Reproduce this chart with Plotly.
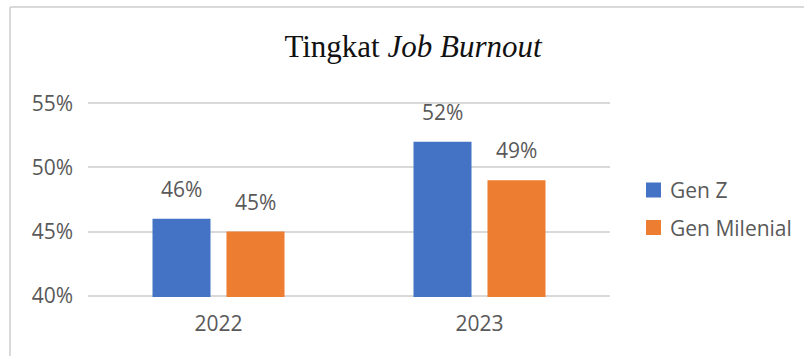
import plotly.graph_objects as go

years = ["2022", "2023"]
gen_z = [46, 52]
gen_milenial = [45, 49]
series_names = ["Gen Z", "Gen Milenial"]
y_ticks = [40, 45, 50, 55]

BLUE = "#4472C4"
ORANGE = "#ED7D31"
TEXT = "#595959"
GRID = "#D9D9D9"
FONT = "Open Sans, Noto Sans, sans-serif"

W, H = 804, 356
L, R, T, B = 88, 194, 102, 59
plot_w = W - L - R
plot_h = H - T - B

# pixel -> paper coordinate helpers
px = lambda v: (v - L) / plot_w
py = lambda v: (H - B - v) / plot_h

series = [(series_names[0], gen_z, BLUE), (series_names[1], gen_milenial, ORANGE)]

fig = go.Figure()
for name, vals, col in series:
    fig.add_trace(go.Bar(x=years, y=vals, name=name, marker_color=col,
                         marker_line_width=0, hoverinfo="x+y+name",
                         showlegend=False))

# value labels above each bar (offset left/right within the group);
# x is the category index so the label sits over its own year
bar_gap = 0.433
slot_px = (1 - bar_gap) * plot_w / len(years) / 2
for (name, vals, col), sign in zip(series, (-1, 1)):
    for i, v in enumerate(vals):
        fig.add_annotation(x=i, y=v, text=f"{v}%", showarrow=False,
                           xref="x", yref="y", yanchor="bottom",
                           xshift=sign * slot_px / 2, yshift=14,
                           font=dict(family=FONT, size=21, color=TEXT))

# legend on the right: coloured square + series name
for k, (name, vals, col) in enumerate(series):
    cy = 190 + k * 37.5
    fig.add_shape(type="rect", xref="paper", yref="paper",
                  x0=px(646), x1=px(661), y0=py(cy + 7.5), y1=py(cy - 7.5),
                  fillcolor=col, line_width=0)
    fig.add_annotation(x=px(668), y=py(cy), xref="paper", yref="paper",
                       text=name, showarrow=False, xanchor="left",
                       yanchor="middle",
                       font=dict(family=FONT, size=21, color=TEXT))

# thin frame around the chart area
frame = dict(color=GRID, width=2)
fig.add_shape(type="line", xref="paper", yref="paper",
              x0=px(10), x1=px(W + 5), y0=py(7), y1=py(7), line=frame)
fig.add_shape(type="line", xref="paper", yref="paper",
              x0=px(10), x1=px(10), y0=py(7), y1=py(H + 5), line=frame)

fig.update_layout(
    width=W, height=H,
    margin=dict(l=L, r=R, t=T, b=B),
    paper_bgcolor="white", plot_bgcolor="white",
    barmode="group", bargap=bar_gap, bargroupgap=0.216,
    title=dict(text="Tingkat <i>Job Burnout</i>", x=px(413), xanchor="center",
               xref="paper", y=1 - 46 / H, yanchor="middle",
               font=dict(family="Liberation Serif, Times New Roman, serif",
                         size=31, color="#111111")),
    font=dict(family=FONT, size=21, color=TEXT),
    showlegend=False,
)
fig.update_xaxes(type="category", range=[-0.5, len(years) - 0.5],
                 showgrid=False, showline=False, ticks="", zeroline=False,
                 tickfont=dict(family=FONT, size=21, color=TEXT),
                 ticklabelstandoff=12)
fig.update_yaxes(range=[39.9, 55.1], tickvals=y_ticks,
                 ticktext=[f"{v}%" for v in y_ticks],
                 showgrid=True, gridcolor=GRID, gridwidth=2, zeroline=False,
                 showline=False, ticks="",
                 tickfont=dict(family=FONT, size=21, color=TEXT),
                 ticklabelstandoff=14)

fig.write_html("out.html")
